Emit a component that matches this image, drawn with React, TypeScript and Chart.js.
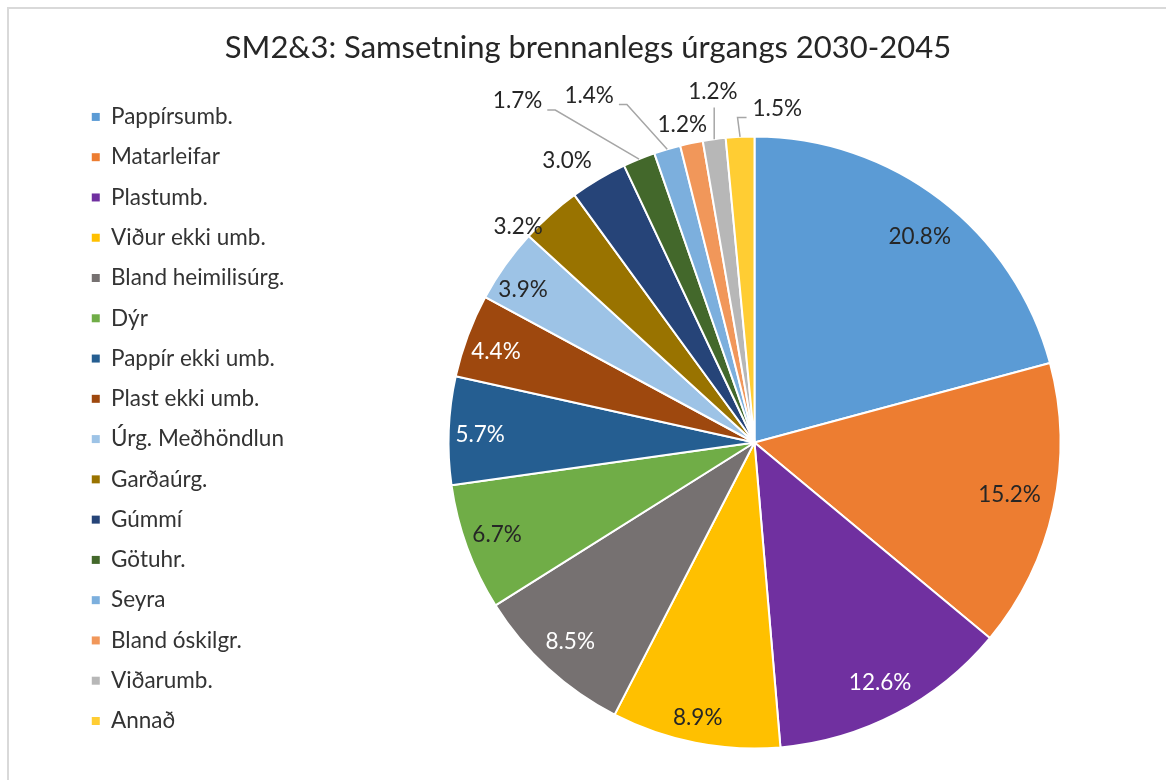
import React, { useEffect, useRef } from "react";
import { Chart, registerables } from "chart.js";

Chart.register(...registerables);

const titleText = "SM2&3: Samsetning brennanlegs úrgangs 2030-2045";

const categories = [
  "Pappírsumb.",
  "Matarleifar",
  "Plastumb.",
  "Viður ekki umb.",
  "Bland heimilisúrg.",
  "Dýr",
  "Pappír ekki umb.",
  "Plast ekki umb.",
  "Úrg. Meðhöndlun",
  "Garðaúrg.",
  "Gúmmí",
  "Götuhr.",
  "Seyra",
  "Bland óskilgr.",
  "Viðarumb.",
  "Annað",
];

const shares = [20.8, 15.2, 12.6, 8.9, 8.5, 6.7, 5.7, 4.4, 3.9, 3.2, 3.0, 1.7, 1.4, 1.2, 1.2, 1.5];

const sliceColors = [
  "#5B9BD5",
  "#ED7D31",
  "#7030A0",
  "#FFC000",
  "#767171",
  "#70AD47",
  "#255E91",
  "#9E480E",
  "#9DC3E6",
  "#997300",
  "#264478",
  "#43682B",
  "#7CAFDD",
  "#F1975A",
  "#B7B7B7",
  "#FFCD33",
];

// label styling (colour, radial placement relative to slice, leader line)
const DARK = "#262626";
const LIGHT = "#FFFFFF";
const labelTextColors = [DARK, DARK, LIGHT, DARK, LIGHT, DARK, LIGHT, LIGHT, DARK, DARK, DARK, DARK, DARK, DARK, DARK, DARK];
const labelRadius = [0.862, 0.851, 0.887, 0.917, 0.886, 0.894, 0.897, 0.895, 0.906, 1.046, 1.106, 1.358, 1.256, 1.066, 1.155, 1.094];
const labelShiftDeg = [1.3, -0.7, 0, 0.5, 0.3, 0.3, -0.7, -1.2, -2, -5.8, -3, -12.6, -8.9, -0.9, 0.8, 6.6];
const labelLeader = [false, false, false, false, false, false, false, false, false, false, false, true, true, false, true, true];

const FONT = "Lato, 'Open Sans', sans-serif";
const LEGEND_WIDTH = 333;

const legendWidthPlugin = {
  id: "legendWidth",
  beforeInit(chart: any) {
    const legend = chart.legend;
    if (!legend) return;
    const fit = legend.fit;
    legend.fit = function () {
      fit.call(this);
      this.width = LEGEND_WIDTH;
    };
  },
};

const pctLabelPlugin = {
  id: "pctLabels",
  afterDatasetsDraw(chart: any) {
    const ctx = chart.ctx as CanvasRenderingContext2D;
    const meta = chart.getDatasetMeta(0);
    ctx.save();
    ctx.font = `22.5px ${FONT}`;
    ctx.textAlign = "center";
    ctx.textBaseline = "middle";
    meta.data.forEach((arc: any, i: number) => {
      const { x, y, startAngle, endAngle, outerRadius } = arc.getProps(
        ["x", "y", "startAngle", "endAngle", "outerRadius"],
        true
      );
      const mid = (startAngle + endAngle) / 2;
      const a = mid + (labelShiftDeg[i] * Math.PI) / 180;
      const r = labelRadius[i] * outerRadius;
      const lx = x + Math.cos(a) * r;
      const ly = y + Math.sin(a) * r;
      const text = shares[i].toFixed(1) + "%";
      if (labelLeader[i]) {
        const ex = x + Math.cos(mid) * outerRadius;
        const ey = y + Math.sin(mid) * outerRadius;
        const w = ctx.measureText(text).width;
        ctx.strokeStyle = "#A6A6A6";
        ctx.lineWidth = 1.5;
        ctx.beginPath();
        const sy = ly + 9;
        if (ex > lx + w / 2) {
          ctx.moveTo(lx + w / 2 + 5, sy);
          ctx.lineTo(lx + w / 2 + 13, sy);
          ctx.lineTo(ex, ey);
        } else if (ex < lx - w / 2) {
          ctx.moveTo(lx - w / 2 - 6, sy);
          ctx.lineTo(lx - w / 2 - 15, sy);
          ctx.lineTo(ex, ey);
        } else {
          ctx.moveTo(ex, ly + 16);
          ctx.lineTo(ex, ey);
        }
        ctx.stroke();
      }
      ctx.fillStyle = labelTextColors[i];
      ctx.fillText(text, lx, ly);
    });
    ctx.restore();
  },
};

export default function App() {
  const canvasRef = useRef<HTMLCanvasElement | null>(null);

  useEffect(() => {
    const canvas = canvasRef.current;
    if (!canvas) return;
    const baseLabels = (Chart as any).overrides.doughnut.plugins.legend.labels.generateLabels;
    const chart = new Chart(canvas, {
      type: "pie",
      data: {
        labels: categories,
        datasets: [
          {
            data: shares,
            backgroundColor: sliceColors,
            borderColor: "#FFFFFF",
            borderWidth: 2,
            radius: 306,
          } as any,
        ],
      },
      options: {
        responsive: false,
        animation: false,
        devicePixelRatio: 1,
        layout: { padding: { left: 65, right: 64, top: 0, bottom: 30 } },
        plugins: {
          title: {
            display: true,
            text: titleText,
            color: "#262626",
            font: { family: FONT, size: 31, weight: "normal" },
            padding: { top: 20.4, bottom: 68.4 },
          },
          legend: {
            position: "left",
            align: "end",
            labels: {
              boxWidth: 8,
              boxHeight: 8,
              padding: 17.77,
              color: "#333333",
              font: { family: FONT, size: 22.5 },
              generateLabels: (c: any) =>
                baseLabels(c).map((l: any) => ({ ...l, lineWidth: 0 })),
            },
          },
          tooltip: { enabled: false },
        },
      } as any,
      plugins: [legendWidthPlugin, pctLabelPlugin],
    });
    return () => chart.destroy();
  }, []);

  return (
    <div
      style={{
        position: "absolute",
        left: 7,
        top: 7,
        width: 1159,
        height: 773,
        boxSizing: "border-box",
        borderTop: "2px solid #D9D9D9",
        borderLeft: "2px solid #D9D9D9",
        overflow: "hidden",
        background: "#FFFFFF",
      }}
    >
      <canvas ref={canvasRef} width={1157} height={771} style={{ display: "block" }} />
    </div>
  );
}
